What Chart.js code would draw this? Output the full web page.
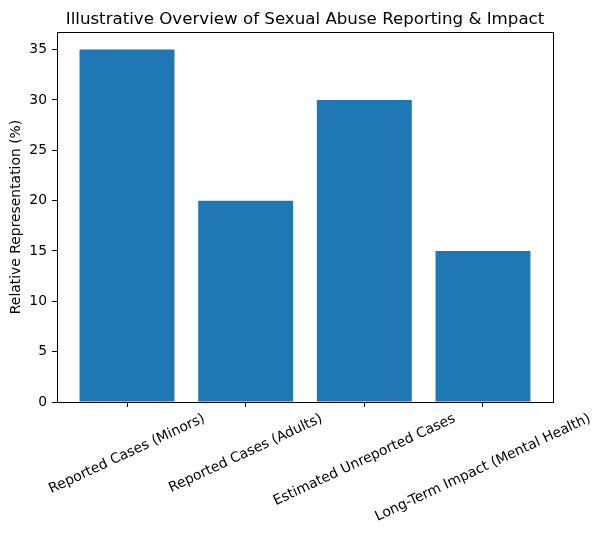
<!DOCTYPE html>
<html>
<head>
<meta charset="utf-8">
<script src="https://cdn.jsdelivr.net/npm/chart.js@4.4.1/dist/chart.umd.min.js"></script>
<style>
  html, body { margin: 0; padding: 0; background: #fff; }
</style>
</head>
<body>
<canvas id="myChart" width="602" height="534"></canvas>
<script>
// Chart data
const categories = [
    "Reported Cases (Minors)",
    "Reported Cases (Adults)",
    "Estimated Unreported Cases",
    "Long-Term Impact (Mental Health)"
];
const values = [35, 20, 30, 15];
const yTicks = [0, 5, 10, 15, 20, 25, 30, 35];

const FONT = '"DejaVu Sans", "Liberation Sans", sans-serif';
const LABEL_SIZE = 13.9;
const ROT = 25 * Math.PI / 180;

// box around the plot + centred rotated category labels (matplotlib style)
const framePlugin = {
    id: 'framePlugin',
    afterLayout(chart) {
        // centre the title over the plot area, not the whole canvas
        const t = chart.titleBlock;
        if (t) {
            t.left = chart.chartArea.left;
            t.right = chart.chartArea.right;
            t.width = t.right - t.left;
        }
    },
    afterDraw(chart) {
        const { ctx, chartArea: a, scales: { x } } = chart;
        ctx.save();
        ctx.strokeStyle = '#000';
        ctx.lineWidth = 1;
        ctx.strokeRect(Math.round(a.left) + 0.5, Math.round(a.top) + 0.5,
            Math.round(a.right - a.left), Math.round(a.bottom - a.top));

        ctx.font = LABEL_SIZE + 'px ' + FONT;
        ctx.fillStyle = '#000';
        ctx.textAlign = 'center';
        ctx.textBaseline = 'middle';
        const top = a.bottom + 9.7;
        categories.forEach((label, i) => {
            const w = ctx.measureText(label).width;
            const h = LABEL_SIZE;
            const bh = w * Math.sin(ROT) + h * Math.cos(ROT);
            const px = x.getPixelForValue(i);
            ctx.save();
            ctx.translate(px, top + bh / 2);
            ctx.rotate(-ROT);
            ctx.fillText(label, 0, 0);
            ctx.restore();
        });
        ctx.restore();
    }
};

const ctx = document.getElementById('myChart').getContext('2d');
const myChart = new Chart(ctx, {
    type: 'bar',
    data: {
        datasets: [{
            data: values.map((v, i) => ({ x: i, y: v })),
            backgroundColor: '#1f77b4',
            borderWidth: 0,
            inflateAmount: 0,
            categoryPercentage: 1,
            barPercentage: 0.8
        }]
    },
    options: {
        responsive: false,
        animation: false,
        devicePixelRatio: 1,
        layout: { padding: { left: 0, right: 49, top: 0, bottom: 0 } },
        plugins: {
            legend: { display: false },
            tooltip: { enabled: false },
            title: {
                display: true,
                text: 'Illustrative Overview of Sexual Abuse Reporting & Impact',
                color: '#000',
                font: { family: FONT, size: 16.67, weight: 'normal', lineHeight: 1.2 },
                padding: { top: 10, bottom: 2 }
            }
        },
        scales: {
            x: {
                type: 'linear',
                min: -0.59,
                max: 3.59,
                offset: false,
                afterBuildTicks: axis => { axis.ticks = categories.map((c, i) => ({ value: i })); },
                afterFit: axis => { axis.height = 132; },
                ticks: { display: false },
                grid: { display: true, offset: false, drawOnChartArea: false, drawTicks: true, tickLength: 5, color: '#000' },
                border: { display: true, color: '#000', width: 1 }
            },
            y: {
                min: 0,
                max: 36.75,
                afterBuildTicks: axis => { axis.ticks = yTicks.map(v => ({ value: v })); },
                afterFit: axis => { axis.width = 57; },
                ticks: {
                    color: '#000',
                    padding: 5,
                    font: { family: FONT, size: LABEL_SIZE }
                },
                grid: { display: true, drawOnChartArea: false, drawTicks: true, tickLength: 5, color: '#000' },
                border: { display: true, color: '#000', width: 1 },
                title: {
                    display: true,
                    text: 'Relative Representation (%)',
                    color: '#000',
                    font: { family: FONT, size: LABEL_SIZE },
                    padding: { top: 8, bottom: 0 }
                }
            }
        }
    },
    plugins: [framePlugin]
});
</script>
</body>
</html>
